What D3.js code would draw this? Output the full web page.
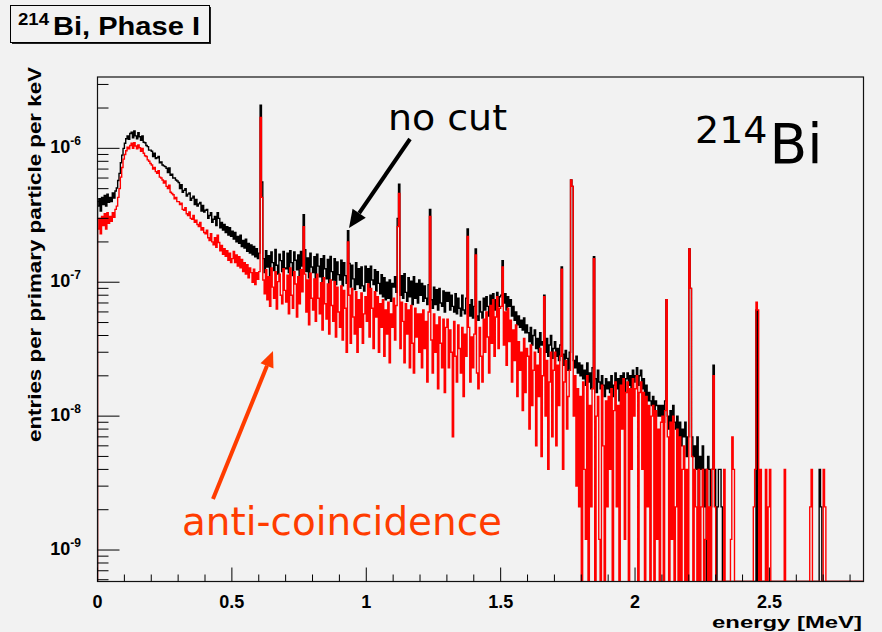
<!DOCTYPE html>
<html>
<head>
<meta charset="utf-8">
<script src="https://cdn.jsdelivr.net/npm/d3@7"></script>
<style>
  html, body { margin: 0; padding: 0; background: #f2f2f2; }
  svg { display: block; }
</style>
</head>
<body>
<div id="chart"></div>
<script>
// --- Data: 5 keV bins from 0 to 2.85 MeV (one row = 0.1 MeV) ---
// values are entries per primary particle per keV, in units of 1e-9
const binWidth = 0.005;  // MeV
const valueUnit = 1e-9;

const noCut = [
  370, 420, 340, 430, 380, 445, 370, 455, 395, 430, 400, 465, 425, 480, 505, 575, 650, 780, 890, 1000,
  1090, 1180, 1240, 1170, 1290, 1320, 1200, 1350, 1240, 1180, 1310, 1220, 1150, 1240, 1110, 1100, 1050, 1030, 970, 970,
  950, 870, 920, 840, 850, 870, 780, 790, 750, 740, 730, 710, 660, 715, 630, 640, 600, 600, 580, 570,
  555, 500, 535, 470, 485, 500, 440, 455, 465, 410, 425, 440, 380, 415, 370, 385, 395, 340, 375, 335,
  345, 350, 300, 315, 330, 280, 295, 310, 265, 330, 300, 255, 280, 245, 270, 235, 260, 225, 255, 220,
  240, 210, 235, 200, 220, 195, 225, 185, 205, 180, 210, 170, 195, 165, 190, 160, 185, 155, 178, 150,
  165, 2100, 560, 150, 118, 172, 130, 158, 112, 168, 140, 122, 176, 134, 115, 162, 145, 120, 170, 128,
  126, 165, 118, 172, 140, 112, 168, 146, 124, 160, 110, 170, 132, 320, 175, 120, 152, 108, 165, 130,
  118, 155, 104, 162, 132, 110, 150, 100, 158, 126, 106, 148, 98, 156, 120, 104, 150, 96, 142, 114,
  104, 146, 94, 140, 112, 98, 243, 138, 92, 134, 106, 88, 140, 96, 126, 90, 130, 94, 86, 132,
  100, 126, 90, 132, 104, 96, 124, 86, 120, 98, 82, 114, 78, 108, 74, 100, 76, 104, 72, 98,
  92, 110, 84, 300, 540, 80, 112, 76, 116, 84, 72, 108, 78, 102, 68, 110, 76, 98, 70, 104,
  80, 98, 72, 94, 76, 68, 96, 350, 74, 64, 92, 68, 88, 62, 90, 70, 66, 86, 60, 84,
  72, 84, 62, 80, 66, 60, 82, 58, 76, 64, 56, 80, 62, 58, 76, 250, 68, 56, 74, 54,
  66, 177, 56, 52, 72, 60, 54, 76, 62, 78, 66, 56, 80, 64, 82, 62, 74, 84, 66, 78,
  80, 145, 70, 82, 62, 78, 66, 74, 56, 66, 52, 60, 48, 56, 46, 52, 44, 54, 42, 48,
  42, 36, 46, 34, 40, 44, 32, 38, 30, 42, 34, 36, 80, 30, 38, 28, 34, 40, 27, 32,
  36, 28, 32, 26, 34, 130, 29, 24, 31, 27, 22, 30, 580, 520, 26, 23, 28, 21, 25, 20,
  24, 19, 22, 17, 25, 18, 21, 16, 23, 155, 19, 15, 22, 18, 16, 20, 17, 14, 19, 16,
  18, 15, 20, 14, 17, 21, 16, 19, 13, 20, 17, 21, 15, 19, 21, 17, 20, 16, 22, 18,
  20, 23, 17, 20, 22, 16, 19, 14, 17, 13, 15, 13, 12, 14, 11, 13, 12, 10, 12, 10,
  12, 9, 13, 74, 10, 8, 11, 7, 12, 9, 8, 10, 7, 9, 6, 8, 7, 9, 5, 7,
  177, 90, 7, 5, 6, 4, 7, 0, 5, 4, 6, 2.1, 4, 0, 5, 4, 2.1, 4, 24, 4,
  0, 2.1, 4, 4, 2.1, 0, 0, 0, 0, 0, 0, 0, 0, 0, 0, 0, 0, 0, 0, 0,
  0, 0, 0, 0, 0, 0, 0, 0, 0, 0, 62, 0, 0, 0, 0, 0, 0, 0, 0, 0,
  0, 0, 0, 0, 0, 0, 0, 0, 0, 0, 0, 0, 0, 0, 0, 0, 0, 0, 0, 0,
  0, 0, 0, 0, 0, 0, 0, 0, 0, 0, 0, 0, 0, 0, 0, 0, 0, 4, 2.1, 0,
  0, 0, 0, 0, 0, 0, 0, 0, 0, 0, 0, 0, 0, 0, 0, 0, 0, 0, 0, 0,
  0, 0, 0, 0, 0, 0, 0, 0, 0, 0
];

const antiCoincidence = [
  250, 300, 230, 310, 265, 325, 250, 330, 275, 310, 285, 330, 305, 350, 370, 430, 500, 610, 720, 830,
  900, 960, 1020, 990, 1050, 1090, 1000, 1100, 1040, 990, 1060, 1010, 950, 1000, 920, 880, 870, 820, 800, 770,
  750, 700, 720, 670, 650, 680, 610, 600, 580, 550, 570, 520, 500, 530, 470, 460, 450, 420, 430, 400,
  400, 380, 390, 350, 345, 360, 325, 315, 335, 300, 295, 315, 280, 290, 270, 260, 280, 245, 255, 235,
  230, 245, 215, 205, 230, 200, 190, 215, 182, 225, 198, 172, 188, 162, 178, 156, 172, 146, 165, 140,
  150, 170, 140, 160, 132, 155, 128, 148, 120, 140, 115, 135, 108, 128, 118, 100, 125, 96, 118, 105,
  120, 1700, 430, 104, 82, 124, 74, 110, 66, 128, 92, 76, 120, 63, 101, 115, 80, 69, 126, 87,
  71, 113, 58, 128, 80, 64, 120, 97, 55, 110, 69, 124, 85, 260, 115, 60, 104, 48, 117, 76,
  62, 106, 51, 115, 76, 58, 99, 44, 108, 69, 53, 97, 41, 104, 67, 51, 101, 39, 92, 60,
  46, 94, 37, 87, 64, 30, 200, 80, 35, 90, 55, 41, 85, 30, 74, 46, 83, 35, 58, 78,
  51, 97, 39, 90, 64, 32, 85, 55, 78, 30, 69, 46, 74, 28, 62, 41, 71, 25, 58, 46,
  76, 37, 67, 260, 460, 32, 71, 51, 25, 69, 41, 62, 23, 67, 35, 21, 64, 39, 58, 30,
  58, 23, 62, 32, 51, 18, 60, 310, 37, 21, 58, 30, 48, 16, 55, 35, 23, 53, 15, 46,
  53, 23, 44, 30, 7, 51, 28, 18, 48, 32, 21, 46, 14, 41, 28, 220, 46, 18, 39, 23,
  41, 160, 21, 16, 46, 28, 18, 53, 30, 60, 39, 21, 67, 35, 74, 28, 55, 78, 32, 64,
  66, 130, 34, 60, 24, 64, 36, 52, 18, 44, 26, 48, 14, 36, 22, 30, 11, 38, 15, 32,
  28, 8, 34, 12, 22, 30, 6, 24, 14, 32, 5, 20, 78, 10, 26, 4, 18, 30, 7, 22,
  30, 6, 24, 12, 28, 125, 4, 18, 26, 8, 14, 22, 580, 520, 10, 20, 3, 16, 2.1, 14,
  0, 18, 4, 1.2, 20, 0, 12, 2.1, 16, 150, 0, 10, 14, 1.2, 0, 17, 6, 0, 13, 2.1,
  14, 4, 16, 0, 11, 18, 2.1, 12, 0, 17, 8, 19, 1.2, 15, 18, 0, 16, 4, 19, 10,
  16, 20, 0, 15, 18, 4, 15, 0, 14, 2.1, 12, 0, 10, 12, 0, 11, 1.2, 8, 0, 9,
  10, 0, 11, 74, 7, 0, 9, 1.2, 10, 0, 2.1, 8, 0, 7, 0, 4, 6, 0, 4, 0,
  177, 90, 5, 0, 4, 2.1, 0, 4, 0, 2.1, 4, 0, 1.2, 4, 0, 2.1, 0, 4, 20, 2.1,
  0, 0, 0, 0, 0, 0, 4, 0, 0, 0, 0, 1.2, 7, 4, 0, 0, 0, 0, 0, 0,
  0, 0, 0, 0, 0, 0, 0, 0, 2.1, 4, 71, 62, 0, 4, 0, 0, 0, 4, 0, 2.1,
  4, 0, 0, 0, 0, 0, 0, 0, 0, 0, 0, 4, 0, 0, 0, 0, 0, 0, 0, 0,
  0, 0, 0, 0, 0, 0, 0, 0, 0, 0, 2.1, 4, 0, 0, 0, 0, 0, 0, 0, 0,
  4, 2.1, 0, 0, 0, 0, 0, 0, 0, 0, 0, 0, 0, 0, 0, 0, 0, 0, 0, 0,
  0, 0, 0, 0, 0, 0, 0, 0, 0, 0
];

const xTicks = [0, 0.5, 1, 1.5, 2, 2.5];
const xTickLabels = ["0", "0.5", "1", "1.5", "2", "2.5"];
const yDecades = [-9, -8, -7, -6];

// --- Layout ---
const W = 882, H = 632;
const frame = { left: 97.5, right: 863.5, top: 77, bottom: 581.5 };
const axisFont = "'Liberation Sans', Arial, sans-serif";
const handFont = "'DejaVu Sans', sans-serif";

const svg = d3.select("#chart")
  .append("svg")
  .attr("width", W)
  .attr("height", H);

svg.append("rect")
  .attr("width", W).attr("height", H)
  .attr("fill", "#f2f2f2");

// --- Scales ---
const x = d3.scaleLinear()
  .domain([0, 2.85])
  .range([frame.left, frame.right]);

const y = d3.scaleLog()
  .domain([5.82e-10, 3.41e-6])
  .range([frame.bottom, frame.top]);

svg.append("clipPath").attr("id", "plotClip")
  .append("rect")
  .attr("x", frame.left).attr("y", frame.top)
  .attr("width", frame.right - frame.left)
  .attr("height", frame.bottom - frame.top);

// --- Histograms as step lines (empty bins drop to the frame bottom) ---
const histPoints = (vals) => {
  const pts = [{ e: 0, v: 0 }];
  vals.forEach((v, i) => pts.push({ e: i * binWidth, v }));
  pts.push({ e: vals.length * binWidth, v: vals[vals.length - 1] });
  pts.push({ e: vals.length * binWidth, v: 0 });
  return pts;
};

const stepLine = d3.line()
  .x(d => x(d.e))
  .y(d => d.v > 0 ? y(d.v * valueUnit) : frame.bottom)
  .curve(d3.curveStepAfter);

const plot = svg.append("g").attr("clip-path", "url(#plotClip)");

plot.append("path")
  .attr("d", stepLine(histPoints(noCut)))
  .attr("fill", "none")
  .attr("stroke", "#000")
  .attr("stroke-width", 1.4);

plot.append("path")
  .attr("d", stepLine(histPoints(antiCoincidence)))
  .attr("fill", "none")
  .attr("stroke", "#ff0000")
  .attr("stroke-width", 1.4);

// --- Frame ---
svg.append("rect")
  .attr("x", frame.left).attr("y", frame.top)
  .attr("width", frame.right - frame.left)
  .attr("height", frame.bottom - frame.top)
  .attr("fill", "none")
  .attr("stroke", "#111")
  .attr("stroke-width", 1.2);

// --- X axis ticks (inside frame) ---
const xMinor = d3.range(0, 2.851, 0.1);
svg.selectAll(".x-tick")
  .data(xMinor)
  .join("line")
  .attr("x1", d => x(d)).attr("x2", d => x(d))
  .attr("y1", frame.bottom)
  .attr("y2", d => frame.bottom - (Math.abs(d * 2 - Math.round(d * 2)) < 1e-6 ? 14 : 7))
  .attr("stroke", "#000");

svg.selectAll(".x-label")
  .data(xTicks)
  .join("text")
  .attr("x", d => x(d))
  .attr("y", 608)
  .attr("text-anchor", "middle")
  .style("font-family", axisFont)
  .style("font-size", "18px")
  .style("font-weight", "bold")
  .text((d, i) => xTickLabels[i]);

svg.append("text")
  .attr("x", 862).attr("y", 628)
  .attr("text-anchor", "end")
  .attr("textLength", 150)
  .attr("lengthAdjust", "spacingAndGlyphs")
  .style("font-family", axisFont)
  .style("font-size", "17px")
  .style("font-weight", "bold")
  .text("energy [MeV]");

// --- Y axis ticks (log) ---
const [yLo, yHi] = y.domain();
const yMinor = [];
for (let k = -10; k <= -6; k++) {
  for (let m = 2; m <= 9; m++) {
    const v = m * Math.pow(10, k);
    if (v >= yLo && v <= yHi) yMinor.push(v);
  }
}
svg.selectAll(".y-minor")
  .data(yMinor)
  .join("line")
  .attr("x1", frame.left).attr("x2", frame.left + 11)
  .attr("y1", d => y(d)).attr("y2", d => y(d))
  .attr("stroke", "#000");

svg.selectAll(".y-major")
  .data(yDecades)
  .join("line")
  .attr("x1", frame.left).attr("x2", frame.left + 22)
  .attr("y1", d => y(Math.pow(10, d))).attr("y2", d => y(Math.pow(10, d)))
  .attr("stroke", "#000");

const yLabels = svg.selectAll(".y-label")
  .data(yDecades)
  .join("text")
  .attr("x", 81)
  .attr("y", d => y(Math.pow(10, d)) + 5)
  .attr("text-anchor", "end")
  .style("font-family", axisFont)
  .style("font-weight", "bold")
  .style("font-size", "18px");
yLabels.append("tspan").text("10");
yLabels.append("tspan")
  .attr("dy", -8)
  .style("font-size", "12px")
  .text(d => String(d));

svg.append("text")
  .attr("transform", "translate(41,67) rotate(-90)")
  .attr("text-anchor", "end")
  .attr("textLength", 375)
  .attr("lengthAdjust", "spacingAndGlyphs")
  .style("font-family", axisFont)
  .style("font-size", "18px")
  .style("font-weight", "bold")
  .text("entries per primary particle per keV");

// --- Title box ---
svg.append("rect")
  .attr("x", 12).attr("y", 7)
  .attr("width", 199).attr("height", 37)
  .attr("fill", "#222");
svg.append("rect")
  .attr("x", 10.5).attr("y", 5.5)
  .attr("width", 199).attr("height", 37)
  .attr("fill", "#f2f2f2")
  .attr("stroke", "#000")
  .attr("stroke-width", 1);

svg.append("text")
  .attr("x", 18).attr("y", 25)
  .attr("textLength", 31)
  .attr("lengthAdjust", "spacingAndGlyphs")
  .style("font-family", axisFont)
  .style("font-weight", "bold")
  .style("font-size", "16px")
  .text("214");
svg.append("text")
  .attr("x", 53).attr("y", 35)
  .attr("textLength", 147)
  .attr("lengthAdjust", "spacingAndGlyphs")
  .style("font-family", axisFont)
  .style("font-weight", "bold")
  .style("font-size", "25px")
  .text("Bi, Phase I");

// --- Annotations ---
const arrow = (x1, y1, x2, y2, color, width, headLen, headHalf) => {
  const a = Math.atan2(y2 - y1, x2 - x1);
  const bx = x2 - headLen * Math.cos(a), by = y2 - headLen * Math.sin(a);
  svg.append("line")
    .attr("x1", x1).attr("y1", y1).attr("x2", bx).attr("y2", by)
    .attr("stroke", color).attr("stroke-width", width);
  svg.append("polygon")
    .attr("points", [
      [x2, y2],
      [bx + headHalf * Math.sin(a), by - headHalf * Math.cos(a)],
      [bx - headHalf * Math.sin(a), by + headHalf * Math.cos(a)]
    ].map(p => p.join(",")).join(" "))
    .attr("fill", color);
};

svg.append("text")
  .attr("x", 388).attr("y", 130)
  .attr("textLength", 119)
  .attr("lengthAdjust", "spacingAndGlyphs")
  .style("font-family", handFont)
  .style("font-size", "36px")
  .style("fill", "#000")
  .text("no cut");
arrow(410, 139, 349, 228, "#000", 4, 18, 8);

const iso = svg.append("text")
  .attr("x", 695).attr("y", 163)
  .style("font-family", handFont)
  .style("fill", "#000");
iso.append("tspan")
  .attr("dy", -20)
  .style("font-size", "38px")
  .text("214");
iso.append("tspan")
  .attr("dy", 20)
  .attr("dx", 2)
  .style("font-size", "55px")
  .text("Bi");

svg.append("text")
  .attr("x", 182).attr("y", 535)
  .attr("textLength", 320)
  .attr("lengthAdjust", "spacingAndGlyphs")
  .style("font-family", handFont)
  .style("font-size", "39px")
  .style("fill", "#ff3c00")
  .text("anti-coincidence");
arrow(213, 499, 273, 351, "#ff3c00", 4, 16, 7);
</script>
</body>
</html>
